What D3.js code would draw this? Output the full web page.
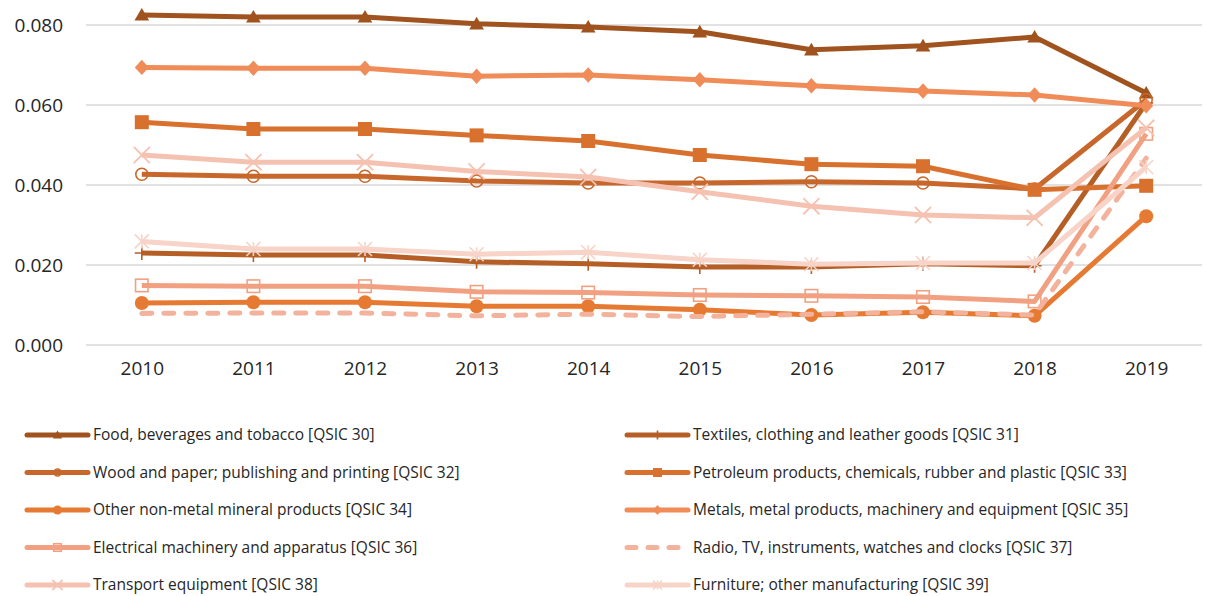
<!DOCTYPE html>
<html>
<head>
<meta charset="UTF-8">
<title>QSIC chart</title>
<script src="https://cdn.jsdelivr.net/npm/d3@7"></script>
<style>
  body { margin: 0; background: #fff; }
  svg { font-family: "Open Sans", sans-serif; }
</style>
</head>
<body>
<script>
var years = ["2010","2011","2012","2013","2014","2015","2016","2017","2018","2019"];
var yTicks = [0, 0.02, 0.04, 0.06, 0.08];

var food      = [0.0825, 0.0820, 0.0820, 0.0803, 0.0795, 0.0783, 0.0738, 0.0748, 0.0770, 0.0630];
var textiles  = [0.0230, 0.0225, 0.0225, 0.0208, 0.0203, 0.0195, 0.0195, 0.0203, 0.0198, 0.0605];
var wood      = [0.0427, 0.0422, 0.0422, 0.0410, 0.0405, 0.0405, 0.0408, 0.0405, 0.0390, 0.0613];
var petroleum = [0.0557, 0.0540, 0.0540, 0.0524, 0.0510, 0.0475, 0.0452, 0.0447, 0.0388, 0.0398];
var nonmetal  = [0.0105, 0.0107, 0.0107, 0.0097, 0.0097, 0.0088, 0.0075, 0.0082, 0.0073, 0.0322];
var metals    = [0.0694, 0.0692, 0.0692, 0.0672, 0.0675, 0.0663, 0.0648, 0.0635, 0.0625, 0.0598];
var electric  = [0.0149, 0.0147, 0.0147, 0.0133, 0.0131, 0.0125, 0.0123, 0.0120, 0.0109, 0.0528];
var radio     = [0.0079, 0.0080, 0.0080, 0.0073, 0.0077, 0.0071, 0.0077, 0.0083, 0.0075, 0.0467];
var transport = [0.0475, 0.0457, 0.0457, 0.0434, 0.0420, 0.0383, 0.0347, 0.0325, 0.0318, 0.0543];
var furniture = [0.0259, 0.0240, 0.0240, 0.0227, 0.0232, 0.0213, 0.0202, 0.0205, 0.0205, 0.0445];

var series = [
  {name: "Food, beverages and tobacco [QSIC 30]", values: food, color: "#a0531f", mark: "triangle"},
  {name: "Textiles, clothing and leather goods [QSIC 31]", values: textiles, color: "#b55e26", mark: "plus"},
  {name: "Wood and paper; publishing and printing [QSIC 32]", values: wood, color: "#c8672b", mark: "ocircle"},
  {name: "Petroleum products, chemicals, rubber and plastic [QSIC 33]", values: petroleum, color: "#d9712e", mark: "square"},
  {name: "Other non-metal mineral products [QSIC 34]", values: nonmetal, color: "#e77a32", mark: "circle"},
  {name: "Metals, metal products, machinery and equipment [QSIC 35]", values: metals, color: "#ef8c58", mark: "diamond"},
  {name: "Electrical machinery and apparatus [QSIC 36]", values: electric, color: "#f1a182", mark: "osquare"},
  {name: "Radio, TV, instruments, watches and clocks [QSIC 37]", values: radio, color: "#f3b29c", mark: "dash"},
  {name: "Transport equipment [QSIC 38]", values: transport, color: "#f5c2b2", mark: "x"},
  {name: "Furniture; other manufacturing [QSIC 39]", values: furniture, color: "#f7d3c8", mark: "asterisk"}
];

var w = 1209, h = 596;
var plotLeft = 86, plotRight = 1202, plotTop = 25, plotBottom = 345;

var svg = d3.select("body").append("svg").attr("width", w).attr("height", h);

var x = d3.scalePoint().domain(years).range([plotLeft, plotRight]).padding(0.5);
var y = d3.scaleLinear().domain([0, 0.08]).range([plotBottom, plotTop]);

// grid
svg.append("g").selectAll("line").data(yTicks).enter().append("line")
  .attr("x1", plotLeft).attr("x2", plotRight)
  .attr("y1", function(d){ return y(d); }).attr("y2", function(d){ return y(d); })
  .attr("stroke", "#d9d9d9").attr("stroke-width", 1.5);

var yAxis = svg.append("g").attr("transform", "translate(" + (plotLeft - 20) + ",0)")
  .call(d3.axisLeft(y).tickValues(yTicks).tickFormat(d3.format(".3f")).tickSize(0));
yAxis.select(".domain").remove();
yAxis.selectAll("text").attr("font-size", 19).attr("fill", "#262626").attr("font-family", "Open Sans");

var xAxis = svg.append("g").attr("transform", "translate(0," + (plotBottom + 13) + ")")
  .call(d3.axisBottom(x).tickSize(0));
xAxis.select(".domain").remove();
xAxis.selectAll("text").attr("font-size", 19).attr("fill", "#262626").attr("font-family", "Open Sans");

function drawMark(g, type, color, s) {
  // s = nominal size in px
  var r = s / 2;
  if (type == "triangle") {
    g.append("path").attr("d", "M0," + (-r) + "L" + (r*1.05) + "," + (r*0.8) + "L" + (-r*1.05) + "," + (r*0.8) + "Z").attr("fill", color);
  } else if (type == "square") {
    g.append("rect").attr("x", -r).attr("y", -r).attr("width", s).attr("height", s).attr("fill", color);
  } else if (type == "diamond") {
    g.append("path").attr("d", "M0," + (-r*1.1) + "L" + r + ",0L0," + (r*1.1) + "L" + (-r) + ",0Z").attr("fill", color);
  } else if (type == "circle") {
    g.append("circle").attr("r", r).attr("fill", color);
  } else if (type == "ocircle") {
    g.append("circle").attr("r", r - 1).attr("fill", "none").attr("stroke", color).attr("stroke-width", 1.6);
  } else if (type == "osquare") {
    g.append("rect").attr("x", -r + 0.75).attr("y", -r + 0.75).attr("width", s - 1.5).attr("height", s - 1.5)
      .attr("fill", "none").attr("stroke", color).attr("stroke-width", 1.6);
  } else if (type == "plus") {
    g.append("path").attr("d", "M0," + (-r) + "V" + r + "M" + (-r) + ",0H" + r)
      .attr("stroke", color).attr("stroke-width", 1.6);
  } else if (type == "x") {
    r = r * 1.15;
    g.append("path").attr("d", "M" + (-r) + "," + (-r) + "L" + r + "," + r + "M" + (-r) + "," + r + "L" + r + "," + (-r))
      .attr("stroke", color).attr("stroke-width", 1.8);
  } else if (type == "asterisk") {
    g.append("path").attr("d", "M" + (-r) + "," + (-r) + "L" + r + "," + r + "M" + (-r) + "," + r + "L" + r + "," + (-r) + "M0," + (-r) + "V" + r)
      .attr("stroke", color).attr("stroke-width", 1.6);
  }
}

var line = d3.line().x(function(d, i){ return x(years[i]); }).y(function(d){ return y(d); });

var plot = svg.append("g");
series.forEach(function(s) {
  var g = plot.append("g");
  g.append("path").datum(s.values).attr("d", line)
    .attr("fill", "none").attr("stroke", s.color).attr("stroke-width", 5)
    .attr("stroke-linejoin", "round")
    .attr("stroke-linecap", s.mark == "dash" ? "round" : "butt")
    .attr("stroke-dasharray", s.mark == "dash" ? "10,12" : null);
  if (s.mark != "dash") {
    s.values.forEach(function(v, i) {
      var m = g.append("g").attr("transform", "translate(" + x(years[i]) + "," + y(v) + ")");
      drawMark(m, s.mark, s.color, 14);
    });
  }
});

// legend, two columns
var legend = svg.append("g");
series.forEach(function(s, i) {
  var col = i % 2, row = Math.floor(i / 2);
  var lx = 27 + col * 600, ly = 435 + row * 37.5;
  var g = legend.append("g").attr("transform", "translate(" + lx + "," + ly + ")");
  g.append("line").attr("x1", 0).attr("x2", 61).attr("y1", 0).attr("y2", 0)
    .attr("stroke", s.color).attr("stroke-width", 5)
    .attr("stroke-linecap", "round")
    .attr("stroke-dasharray", s.mark == "dash" ? "9,12" : null);
  if (s.mark != "dash") {
    var m = g.append("g").attr("transform", "translate(30.5,0)");
    drawMark(m, s.mark, s.color, 9);
  }
  g.append("text").attr("x", 66).attr("y", 0).attr("dy", "0.35em")
    .attr("font-size", 15.5).attr("fill", "#262626").text(s.name);
});
</script>
</body>
</html>
